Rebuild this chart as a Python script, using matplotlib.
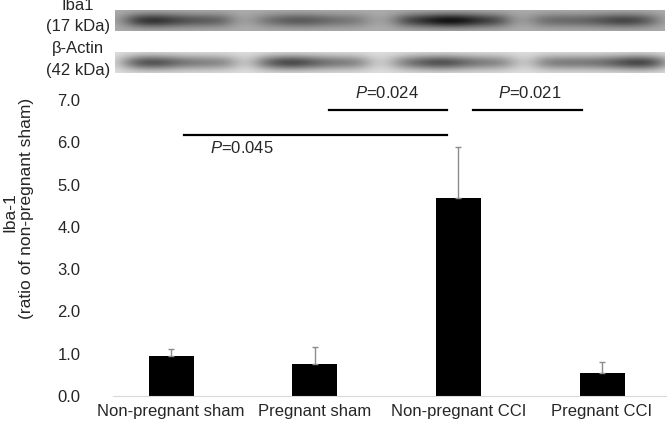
import numpy as np
import matplotlib
matplotlib.use("Agg")
import matplotlib.pyplot as plt

plt.rcParams['font.family'] = ['Liberation Sans', 'DejaVu Sans']
plt.rcParams['mathtext.fontset'] = 'custom'
plt.rcParams['mathtext.rm'] = 'Liberation Sans'
plt.rcParams['mathtext.it'] = 'Liberation Sans:italic'

# data
groups = ["Non-pregnant sham", "Pregnant sham", "Non-pregnant CCI", "Pregnant CCI"]
means = [0.94, 0.75, 4.69, 0.54]
errs = [0.16, 0.40, 1.20, 0.26]
yticks = [0.0, 1.0, 2.0, 3.0, 4.0, 5.0, 6.0, 7.0]

# significance brackets
sig_from = [0.09, 1.10, 2.10]
sig_to = [1.92, 1.92, 2.86]
sig_y = [6.17, 6.76, 6.76]
sig_labels = ["0.045", "0.024", "0.021"]
sig_text_x = [0.49, 1.50, 2.50]
sig_text_y = [5.86, 7.16, 7.16]

# blot lanes (pixel columns in figure), darkest point and band darkness
iba_left = [126, 257, 397, 534]
iba_right = [231, 367, 508, 658]
iba_peak = [150, 300, 450, 625]
iba_dark = [0.48, 0.32, 0.60, 0.40]
act_left = [123, 256, 393, 536]
act_right = [235, 368, 513, 667]
act_peak = [150, 290, 440, 640]
act_dark = [0.55, 0.58, 0.55, 0.60]

W, H = 667, 421
fig = plt.figure(figsize=(W / 100, H / 100), dpi=100)


def fbox(x0, y0, x1, y1):
    return [x0 / W, 1 - y1 / H, (x1 - x0) / W, (y1 - y0) / H]


def blot(x0, x1, y0, y1, lefts, rights, peaks, dark, bg, thick):
    xs = np.arange(x0, x1) + 0.5
    ys = np.arange(y0, y1) + 0.5
    yc = (y0 + y1) / 2
    img = np.full((len(ys), len(xs)), bg)
    vprof = np.exp(-((ys - yc) / thick) ** 2)
    for l, r, p, d in zip(lefts, rights, peaks, dark):
        box = 0.5 * (np.tanh((xs - l) / 14) - np.tanh((xs - r) / 14))
        hprof = box * (0.65 + 0.35 * np.exp(-((xs - p) / 30) ** 2))
        img -= d * np.outer(vprof, hprof)
    a = fig.add_axes(fbox(x0, y0, x1, y1))
    a.imshow(np.clip(img, 0, 1), cmap="gray", vmin=0, vmax=1,
             aspect="auto", interpolation="bilinear")
    a.axis("off")


blot(115, 665, 10, 31, iba_left, iba_right, iba_peak, iba_dark, 0.68, 7)
blot(115, 665, 52, 73, act_left, act_right, act_peak, act_dark, 0.88, 7.5)

for txt, yy in zip(["Iba1", "(17 kDa)", "β-Actin", "(42 kDa)"], [6, 27, 49, 70]):
    fig.text(78 / W, 1 - yy / H, txt, ha="center", va="center",
             fontsize=12, color="#262626")

ax = fig.add_axes(fbox(113, 100, 667, 396))
x = np.arange(len(groups))
ax.bar(x, means, width=0.313, color="black",
       yerr=[np.zeros(len(errs)), errs], ecolor="#8c8c8c", capsize=2,
       error_kw=dict(elinewidth=1, capthick=1))
ax.set_xlim(-0.404, 3.452)
ax.set_ylim(0, 7)
ax.set_yticks(yticks)
ax.set_yticklabels(["%.1f" % t for t in yticks])
ax.set_xticks(x)
ax.set_xticklabels(groups)
for s in ["left", "right", "top"]:
    ax.spines[s].set_visible(False)
ax.spines["bottom"].set_color("#d9d9d9")
ax.tick_params(axis="y", left=False, pad=20, labelsize=12, labelcolor="#262626")
ax.tick_params(axis="x", bottom=False, pad=2, labelsize=12, labelcolor="#262626")

for a0, a1, yy, lab, tx, ty in zip(sig_from, sig_to, sig_y, sig_labels, sig_text_x, sig_text_y):
    ax.plot([a0, a1], [yy, yy], color="black", lw=1.6, clip_on=False)
    ax.text(tx, ty, r"$\it{P}$=" + lab, ha="center", va="center",
            fontsize=12, color="#262626", clip_on=False)

fig.text(10 / W, 1 - 212 / H, "Iba-1", rotation=90, ha="center", va="center",
         fontsize=12.5, color="#262626")
fig.text(27 / W, 1 - 208 / H, "(ratio of non-pregnant sham)", rotation=90,
         ha="center", va="center", fontsize=12.5, color="#262626")

fig.savefig("out.png", dpi=100)
